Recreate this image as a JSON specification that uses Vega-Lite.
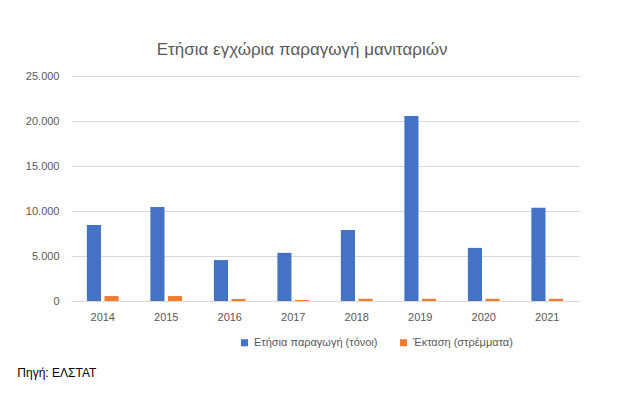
{
  "$schema": "https://vega.github.io/schema/vega-lite/v6.json",
  "padding": {"left": 17, "top": 41, "right": 10, "bottom": 2},
  "background": "white",
  "config": {
    "locale": {"number": {"decimal": ",", "thousands": ".", "grouping": [3], "currency": ["", " €"]}},
    "view": {"stroke": null},
    "font": "Liberation Sans",
    "axis": {"labelColor": "#595959", "labelFontSize": 11, "labelFont": "Liberation Sans"},
    "legend": {"labelColor": "#595959", "labelFontSize": 11, "labelFont": "Liberation Sans"}
  },
  "title": {"text": "Πηγή: ΕΛΣΤΑΤ", "orient": "bottom", "anchor": "start", "frame": "bounds", "fontSize": 12, "fontWeight": "normal", "color": "#000000", "font": "Liberation Sans", "offset": 20, "dx": -8},
  "vconcat": [
    {
      "width": 508,
      "height": 225,
      "title": {"text": "Ετήσια εγχώρια παραγωγή μανιταριών", "fontSize": 17, "fontWeight": "normal", "color": "#595959", "font": "Liberation Sans", "anchor": "middle", "frame": "bounds", "offset": 11},
      "data": {
        "values": [
          {"year": "2014", "series": "Ετήσια παραγωγή (τόνοι)", "value": 8450},
          {"year": "2015", "series": "Ετήσια παραγωγή (τόνοι)", "value": 10450},
          {"year": "2016", "series": "Ετήσια παραγωγή (τόνοι)", "value": 4550},
          {"year": "2017", "series": "Ετήσια παραγωγή (τόνοι)", "value": 5350},
          {"year": "2018", "series": "Ετήσια παραγωγή (τόνοι)", "value": 7900},
          {"year": "2019", "series": "Ετήσια παραγωγή (τόνοι)", "value": 20550},
          {"year": "2020", "series": "Ετήσια παραγωγή (τόνοι)", "value": 5900},
          {"year": "2021", "series": "Ετήσια παραγωγή (τόνοι)", "value": 10350},
          {"year": "2014", "series": "Έκταση (στρέμματα)", "value": 550},
          {"year": "2015", "series": "Έκταση (στρέμματα)", "value": 550},
          {"year": "2016", "series": "Έκταση (στρέμματα)", "value": 230},
          {"year": "2017", "series": "Έκταση (στρέμματα)", "value": 110},
          {"year": "2018", "series": "Έκταση (στρέμματα)", "value": 250},
          {"year": "2019", "series": "Έκταση (στρέμματα)", "value": 250},
          {"year": "2020", "series": "Έκταση (στρέμματα)", "value": 250},
          {"year": "2021", "series": "Έκταση (στρέμματα)", "value": 250}
        ]
      },
      "mark": {"type": "bar"},
      "encoding": {
        "x": {
          "field": "year", "type": "nominal",
          "scale": {"paddingInner": 0.5, "paddingOuter": 0.25},
          "axis": {"title": null, "labelAngle": 0, "domain": true, "domainColor": "#D9D9D9", "ticks": false, "labelPadding": 10}
        },
        "xOffset": {
          "field": "series", "type": "nominal",
          "sort": ["Ετήσια παραγωγή (τόνοι)", "Έκταση (στρέμματα)"],
          "scale": {"paddingInner": 0.2}
        },
        "y": {
          "field": "value", "type": "quantitative",
          "scale": {"domain": [0, 25000]},
          "axis": {"title": null, "values": [0, 5000, 10000, 15000, 20000, 25000], "format": ",.0f", "domain": false, "ticks": false, "gridColor": "#D9D9D9", "labelPadding": 12}
        },
        "color": {
          "field": "series", "type": "nominal",
          "scale": {"domain": ["Ετήσια παραγωγή (τόνοι)", "Έκταση (στρέμματα)"], "range": ["#4472C4", "#ED7D31"]},
          "legend": {"title": " ", "titleOrient": "left", "titlePadding": 168, "orient": "bottom", "direction": "horizontal", "symbolType": "square", "symbolSize": 50, "symbolStrokeWidth": 0, "columnPadding": 20, "offset": 15}
        }
      }
    }
  ]
}
